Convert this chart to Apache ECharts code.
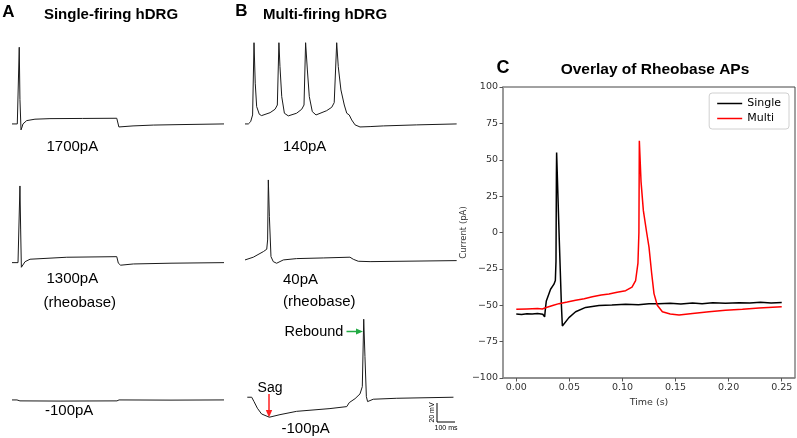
<!DOCTYPE html>
<html>
<head>
<meta charset="utf-8">
<script src="https://cdn.jsdelivr.net/npm/echarts@6/dist/echarts.min.js"></script>
<style>html,body{margin:0;padding:0;background:#fff}#c{width:797px;height:438px}</style>
</head>
<body>
<div id="c"></div>
<script>
// ---- Panel A traces (time ms, membrane potential mV) ----
const traceA1700 = [[0,-60],[30,-60],[36,-59.5],[41,21],[45,-34],[51,-66.3],[57,-63.2],[62,-60],[83,-56.5],[130,-55],[215,-54.4],[400,-54.2],[593,-54],[599,-55.8],[605,-63.2],[611,-63.9],[685,-62.1],[800,-61.2],[951,-60.7],[1200,-60]];
const traceA1300 = [[0,-60],[34,-60],[40,-59.3],[45,21],[49,-25.5],[53,-64.9],[74,-59],[102,-56.4],[310,-54.3],[593,-53.7],[602,-60.6],[615,-62.7],[687,-61.4],[900,-60.6],[1200,-60]];
const traceAneg100 = [[0,-60],[28,-60],[45,-61],[272,-61.2],[594,-61],[606,-60],[900,-60.2],[1200,-60]];
// ---- Panel B traces ----
const traceB140 = [[0,-60],[19,-60],[32,-57.6],[43,-50.5],[51,25.8],[58,-17],[66,-41.7],[81,-49.8],[94,-51.2],[142,-48.1],[170,-44.5],[183,-40],[192,25.8],[198,0.5],[208,-31.2],[223,-48.7],[245,-51.5],[292,-48.7],[321,-44.5],[334,-40],[343,25.8],[353,-3],[364,-31.2],[381,-47],[402,-50.5],[462,-46],[491,-42.4],[505,-37.5],[519,25.8],[528,0.5],[543,-24.1],[562,-40],[576,-48.7],[590,-50.5],[604,-55.8],[623,-61],[651,-63.2],[708,-62.8],[783,-62.1],[972,-61],[1198,-60]];
const traceB40 = [[0,-60],[47,-57.1],[104,-51.2],[123,-48.7],[128,-38.9],[132,24.5],[138,-14.3],[147,-56.5],[160,-61.8],[179,-63.5],[217,-60],[292,-58.6],[443,-57.9],[594,-57.1],[613,-59.3],[641,-61.4],[708,-61.8],[1198,-60.7]];
const traceBneg100 = [[13,-60],[38,-60],[51,-64.6],[70,-71.6],[94,-77.7],[138,-81.1],[198,-78.4],[292,-74.9],[481,-72],[576,-69.9],[590,-65.7],[623,-61.5],[651,-56.5],[664,-48.8],[672,22.4],[679,-17.1],[687,-59.4],[694,-64.6],[726,-62.1],[859,-61.1],[1180,-60]];
// ---- Panel C: overlay of rheobase APs (time s, value) ----
const singleAP = [[0,-56],[0.005,-56.3],[0.01,-55.8],[0.015,-56],[0.02,-55.7],[0.025,-56.2],[0.0261,-56.4],[0.0267,-58],[0.0275,-52],[0.0283,-47],[0.0323,-39],[0.0355,-35.5],[0.0368,-33],[0.0374,-20],[0.0378,40],[0.038,55],[0.0405,-5],[0.0425,-50],[0.0434,-64.2],[0.045,-63],[0.0496,-58.5],[0.0559,-54.5],[0.0653,-51.5],[0.0779,-50.2],[0.09,-49.8],[0.103,-49.3],[0.115,-49.6],[0.125,-48.9],[0.134,-49],[0.145,-48.6],[0.155,-49.1],[0.166,-48.5],[0.175,-48.9],[0.185,-48.3],[0.197,-48.6],[0.21,-48.2],[0.22,-48.5],[0.23,-48],[0.24,-48.4],[0.25,-48.1]];
const multiAP = [[0,-52.8],[0.01,-52.5],[0.02,-52.2],[0.0245,-52.6],[0.0283,-51.6],[0.035,-50],[0.0402,-48.9],[0.048,-47.8],[0.0559,-46.6],[0.064,-45.5],[0.0716,-44.2],[0.08,-43],[0.0873,-42.2],[0.095,-41],[0.103,-40],[0.109,-37.5],[0.1124,-33],[0.1146,-21],[0.1155,0],[0.1159,63],[0.1175,35],[0.1197,15],[0.1228,0],[0.125,-10],[0.1275,-28],[0.1297,-42],[0.1328,-50],[0.1376,-54.5],[0.145,-56],[0.1533,-56.7],[0.166,-55.6],[0.1815,-54.5],[0.197,-53.4],[0.213,-52.8],[0.2286,-51.9],[0.25,-51.1]];
const xTicks = [0, 0.05, 0.10, 0.15, 0.20, 0.25];
const yTicks = [-100, -75, -50, -25, 0, 25, 50, 75, 100];
const seriesNames = ['Single', 'Multi'];
const seriesColors = ['#000000', '#ff0000'];

const traces = [
  {data: traceA1700, left: 12, top: 19.8},
  {data: traceA1300, left: 12, top: 158.5},
  {data: traceAneg100, left: 12, top: 295.8},
  {data: traceB140, left: 245, top: 19.8},
  {data: traceB40, left: 245, top: 155.8},
  {data: traceBneg100, left: 245, top: 293.1}
];

const grids = [], xAxes = [], yAxes = [], series = [];
traces.forEach((t, i) => {
  grids.push({left: t.left, top: t.top, width: 212, height: 142, containLabel: false});
  xAxes.push({type: 'value', gridIndex: i, min: 0, max: 1200, show: false});
  yAxes.push({type: 'value', gridIndex: i, min: -100, max: 50, show: false});
  series.push({type: 'line', xAxisIndex: i, yAxisIndex: i, data: t.data, symbol: 'none', silent: true,
    lineStyle: {color: '#1a1a1a', width: 1}, animation: false});
});

const ci = traces.length;
grids.push({left: 503, right: 2, top: 87, bottom: 60, show: true, borderColor: '#444', borderWidth: 1});
const fmtMinus = v => String(Math.abs(v) < 1e-9 ? 0 : v).replace('-', '\u2212');
xAxes.push({type: 'value', gridIndex: ci, min: -0.0125, max: 0.2625,
  name: 'Time (s)', nameLocation: 'middle', nameGap: 16,
  nameTextStyle: {fontFamily: 'DejaVu Sans', fontSize: 9.5, color: '#333'},
  axisLine: {show: true, onZero: false, lineStyle: {color: '#888', width: 1.5}},
  axisTick: {show: true, length: 3.5, customValues: xTicks, lineStyle: {color: '#555'}},
  axisLabel: {customValues: xTicks, fontFamily: 'DejaVu Sans', fontSize: 9.5, color: '#333', margin: 5,
    formatter: v => v.toFixed(2)},
  splitLine: {show: false}});
yAxes.push({type: 'value', gridIndex: ci, min: -100, max: 100, interval: 25,
  name: 'Current (pA)', nameLocation: 'middle', nameGap: 35,
  nameTextStyle: {fontFamily: 'DejaVu Sans', fontSize: 8.5, color: '#333'},
  axisLine: {show: true, onZero: false, lineStyle: {color: '#999', width: 2}},
  axisTick: {show: true, length: 3.5, lineStyle: {color: '#555'}},
  axisLabel: {fontFamily: 'DejaVu Sans', fontSize: 9.5, color: '#333', margin: 5, formatter: fmtMinus},
  splitLine: {show: false}});
[singleAP, multiAP].forEach((d, k) => {
  series.push({type: 'line', name: seriesNames[k], xAxisIndex: ci, yAxisIndex: ci, data: d, symbol: 'none',
    lineStyle: {color: seriesColors[k], width: 1.5}, itemStyle: {color: seriesColors[k]}, animation: false});
});

function txt(text, x, y, size, opts) {
  opts = opts || {};
  return {type: 'text', x: x, y: y, rotation: opts.rotation || 0, silent: true,
    style: {text: text, fill: opts.color || '#000', font: (opts.weight || 'normal') + ' ' + size + 'px ' + (opts.family || '"Liberation Sans", Arial, sans-serif'),
      textAlign: opts.align || 'left', textVerticalAlign: 'middle', verticalAlign: 'middle'}};
}

const graphic = [
  txt('A', 8.3, 12.5, 17, {weight: 'bold', align: 'center'}),
  txt('Single-firing hDRG', 111, 15, 15, {weight: 'bold', align: 'center'}),
  txt('B', 241.5, 11.5, 17, {weight: 'bold', align: 'center'}),
  txt('Multi-firing hDRG', 325, 14.5, 15, {weight: 'bold', align: 'center'}),
  txt('C', 503, 68, 18, {weight: 'bold', align: 'center'}),
  txt('Overlay of Rheobase APs', 655, 70, 15.5, {weight: 'bold', align: 'center'}),
  txt('1700pA', 46.5, 147, 15),
  txt('1300pA', 46.5, 279, 15),
  txt('(rheobase)', 43.5, 303, 15),
  txt('-100pA', 45, 410.5, 15),
  txt('140pA', 283, 147, 15),
  txt('40pA', 283, 280, 15),
  txt('(rheobase)', 283, 302, 15),
  txt('-100pA', 281.5, 429, 15),
  txt('Sag', 270, 388, 14, {align: 'center'}),
  txt('Rebound', 284.5, 331.5, 14.5),
  {type: 'line', silent: true, shape: {x1: 269, y1: 394, x2: 269, y2: 411}, style: {stroke: '#ff2020', lineWidth: 1.5}},
  {type: 'polygon', silent: true, shape: {points: [[265.8, 410], [272.2, 410], [269, 417.5]]}, style: {fill: '#ff2020'}},
  {type: 'line', silent: true, shape: {x1: 346.5, y1: 331.5, x2: 357, y2: 331.5}, style: {stroke: '#22aa44', lineWidth: 1.5}},
  {type: 'polygon', silent: true, shape: {points: [[356, 328.5], [356, 334.5], [363, 331.5]]}, style: {fill: '#22aa44'}},
  {type: 'polyline', silent: true, shape: {points: [[437, 403], [437, 422], [455, 422]]}, style: {stroke: '#000', lineWidth: 1, fill: null}},
  txt('20 mV', 432.5, 412.5, 7, {align: 'center', rotation: Math.PI / 2}),
  txt('100 ms', 446, 428.5, 7, {align: 'center'})
];

const chart = echarts.init(document.getElementById('c'), null, {renderer: 'canvas'});
chart.setOption({
  animation: false,
  backgroundColor: '#fff',
  grid: grids, xAxis: xAxes, yAxis: yAxes, series: series,
  legend: {data: seriesNames, orient: 'vertical', right: 8, top: 93, icon: 'rect', itemWidth: 25, itemHeight: 1.5,
    itemGap: 4, padding: [5, 8, 5, 8], borderColor: '#d0d0d0', borderWidth: 1, borderRadius: 3, backgroundColor: '#fff',
    textStyle: {fontFamily: 'DejaVu Sans', fontSize: 11, color: '#000'}, selectedMode: false},
  graphic: graphic
});
</script>
</body>
</html>
